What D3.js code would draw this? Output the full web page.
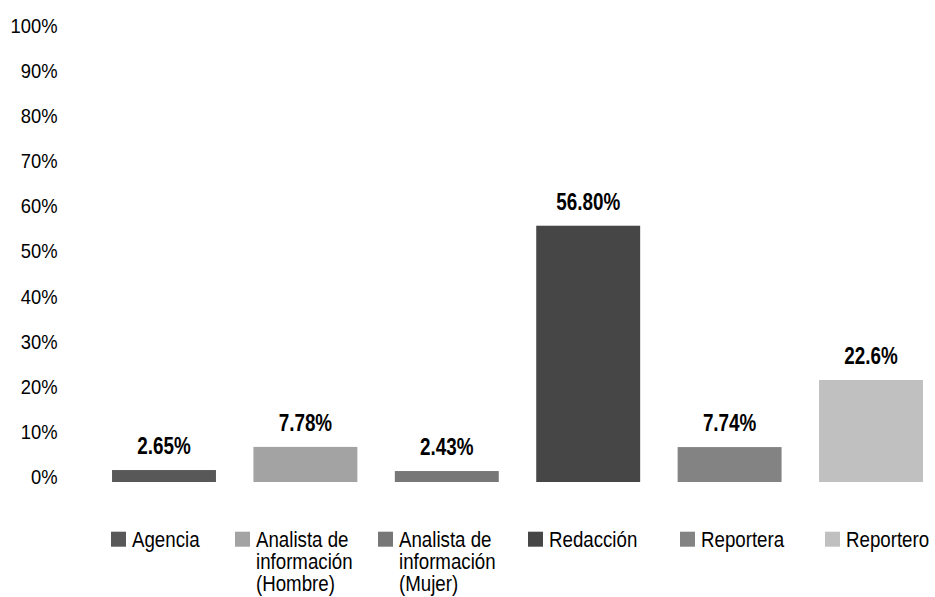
<!DOCTYPE html>
<html>
<head>
<meta charset="utf-8">
<script src="https://cdn.jsdelivr.net/npm/d3@7"></script>
<style>
  html, body { margin: 0; padding: 0; background: #fff; }
  svg { display: block; }
  text { font-family: "Liberation Sans", Arial, sans-serif; fill: #000; }
</style>
</head>
<body>
<svg id="chart" width="935" height="597"></svg>
<script>
// Categories, values and their printed labels
const categories = ["Agencia", "Analista de información (Hombre)", "Analista de información (Mujer)", "Redacción", "Reportera", "Reportero"];
const legendLines = [["Agencia"], ["Analista de", "información", "(Hombre)"], ["Analista de", "información", "(Mujer)"], ["Redacción"], ["Reportera"], ["Reportero"]];
const values = [2.65, 7.78, 2.43, 56.80, 7.74, 22.6];
const valueLabels = ["2.65%", "7.78%", "2.43%", "56.80%", "7.74%", "22.6%"];
const colors = ["#585858", "#a3a3a3", "#777777", "#464646", "#838383", "#c0c0c0"];
const yTicks = [0, 10, 20, 30, 40, 50, 60, 70, 80, 90, 100];

const svg = d3.select("#chart");

const x = d3.scaleBand()
  .domain(categories)
  .range([93.3, 941.7])
  .paddingInner(0.265)
  .paddingOuter(0.1325);

const y = d3.scaleLinear().domain([0, 100]).range([482, 30.8]);

// Y axis tick labels (slightly condensed)
const yAxis = svg.append("g").attr("class", "y-axis");
yAxis.selectAll("g")
  .data(yTicks)
  .join("g")
  .attr("transform", d => `translate(57.5,${y(d) + 2}) scale(0.92,1)`)
  .append("text")
  .attr("text-anchor", "end")
  .style("font-size", "20px")
  .text(d => d + "%");

// Bars
svg.append("g").selectAll("rect")
  .data(values)
  .join("rect")
  .attr("x", (d, i) => x(categories[i]))
  .attr("y", d => y(d))
  .attr("width", x.bandwidth())
  .attr("height", d => y(0) - y(d))
  .attr("fill", (d, i) => colors[i]);

// Value labels above bars, condensed bold
svg.append("g").selectAll("g")
  .data(values)
  .join("g")
  .attr("transform", (d, i) => `translate(${x(categories[i]) + x.bandwidth() / 2},${y(d) - 16}) scale(0.82,1)`)
  .append("text")
  .attr("text-anchor", "middle")
  .style("font-size", "23px")
  .style("font-weight", "bold")
  .text((d, i) => valueLabels[i]);

// Legend below the plot
const legendX = [111, 235, 378, 528, 680, 825];
const legend = svg.append("g").attr("class", "legend");
const items = legend.selectAll("g")
  .data(categories)
  .join("g")
  .attr("transform", (d, i) => `translate(${legendX[i]},531.7)`);

items.append("rect")
  .attr("width", 15)
  .attr("height", 15)
  .attr("fill", (d, i) => colors[i]);

items.each(function(d, i) {
  const g = d3.select(this);
  legendLines[i].forEach((line, j) => {
    g.append("g")
      .attr("transform", `translate(21,${15 + j * 22}) scale(0.85,1)`)
      .append("text")
      .style("font-size", "22px")
      .text(line);
  });
});
</script>
</body>
</html>
